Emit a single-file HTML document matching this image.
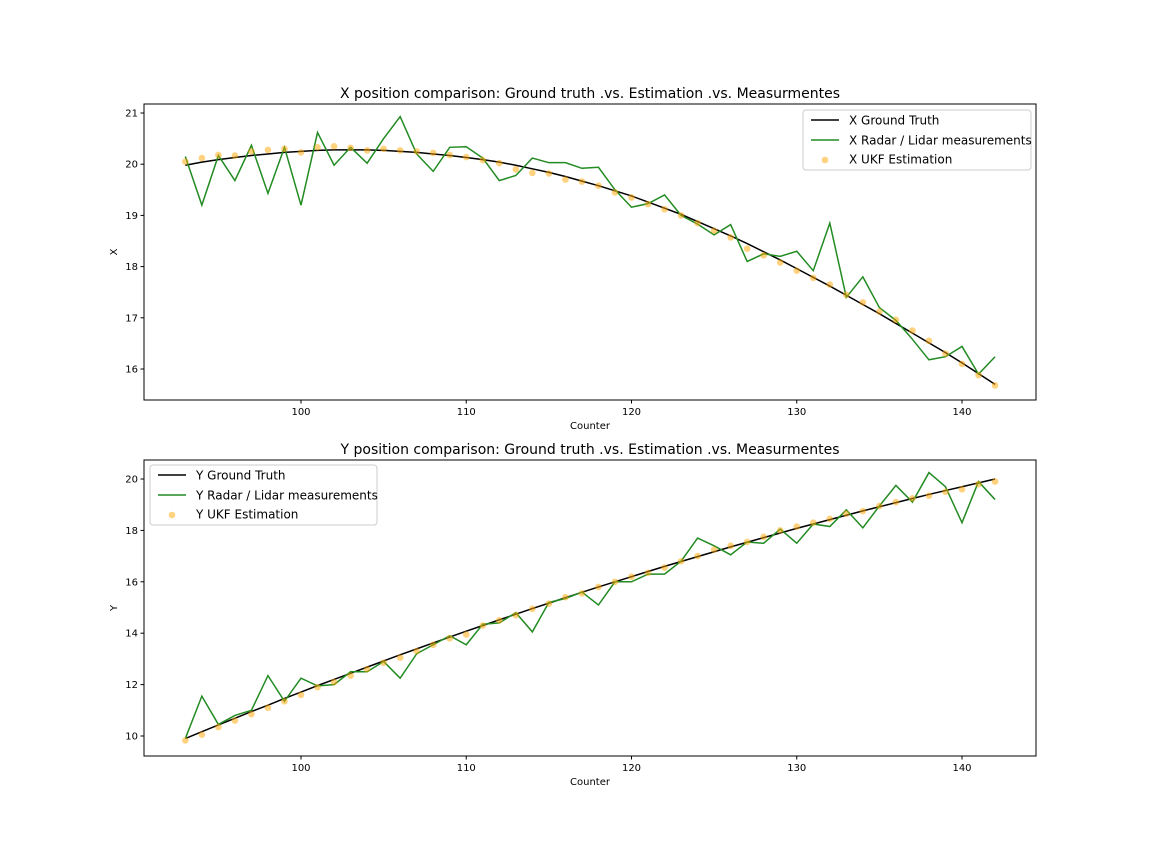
<!DOCTYPE html>
<html><head><meta charset="utf-8"><style>
body{margin:0;background:#fff}
svg{display:block;font-family:"DejaVu Sans","Liberation Sans",sans-serif}
</style></head><body>
<svg id="c" width="1152" height="864"></svg>
<script>
const counters=[];for(let c=93;c<=142;c++)counters.push(c);
const xTruth=[19.98,20.04,20.09,20.13,20.17,20.20,20.23,20.25,20.27,20.28,20.28,20.28,20.27,20.25,20.23,20.20,20.17,20.13,20.09,20.04,19.98,19.91,19.84,19.76,19.67,19.58,19.48,19.38,19.26,19.14,19.02,18.88,18.74,18.60,18.45,18.29,18.13,17.96,17.79,17.62,17.44,17.26,17.08,16.89,16.70,16.51,16.32,16.12,15.91,15.70];
const xMeas=[20.15,19.2,20.17,19.68,20.37,19.43,20.33,19.2,20.62,19.98,20.33,20.02,20.5,20.93,20.2,19.86,20.33,20.34,20.12,19.68,19.78,20.12,20.03,20.03,19.92,19.94,19.5,19.16,19.23,19.4,19.0,18.83,18.62,18.82,18.1,18.25,18.2,18.3,17.92,18.85,17.4,17.8,17.2,16.95,16.58,16.18,16.24,16.44,15.9,16.24];
const xUkf=[20.05,20.12,20.18,20.17,20.25,20.28,20.3,20.23,20.33,20.35,20.32,20.27,20.3,20.27,20.25,20.22,20.18,20.14,20.08,20.02,19.9,19.83,19.82,19.7,19.66,19.58,19.45,19.35,19.22,19.12,19.0,18.85,18.7,18.57,18.35,18.22,18.08,17.92,17.78,17.65,17.45,17.3,17.12,16.96,16.75,16.55,16.3,16.1,15.88,15.68];
const yTruth=[9.90,10.17,10.43,10.69,10.95,11.20,11.46,11.71,11.96,12.20,12.44,12.68,12.92,13.16,13.39,13.62,13.85,14.08,14.30,14.52,14.74,14.96,15.17,15.38,15.59,15.80,16.00,16.20,16.40,16.60,16.79,16.98,17.17,17.36,17.54,17.72,17.90,18.08,18.25,18.42,18.59,18.76,18.92,19.08,19.24,19.40,19.55,19.70,19.85,20.00];
const yMeas=[9.9,11.55,10.45,10.8,11.0,12.35,11.35,12.25,11.95,12.0,12.5,12.5,12.9,12.25,13.2,13.55,13.9,13.55,14.35,14.4,14.8,14.05,15.2,15.35,15.6,15.1,16.0,16.0,16.3,16.3,16.8,17.7,17.4,17.05,17.55,17.5,18.05,17.5,18.25,18.15,18.8,18.1,18.95,19.75,19.1,20.25,19.7,18.3,19.9,19.2];
const yUkf=[9.83,10.05,10.35,10.6,10.85,11.1,11.35,11.6,11.9,12.1,12.35,12.6,12.85,13.05,13.3,13.55,13.8,13.95,14.3,14.5,14.7,14.95,15.15,15.4,15.55,15.8,16.0,16.2,16.35,16.55,16.8,17.0,17.25,17.4,17.55,17.75,18.0,18.15,18.3,18.45,18.65,18.75,18.95,19.1,19.25,19.35,19.5,19.6,19.8,19.9];
const xTicks=[100,110,120,130,140];
const topYTicks=[16,17,18,19,20,21];
const botYTicks=[10,12,14,16,18,20];

const svg=document.getElementById('c');
const NS='http://www.w3.org/2000/svg';
function mk(tag,attrs,parent,text){const e=document.createElementNS(NS,tag);for(const k in attrs)e.setAttribute(k,attrs[k]);if(text!==undefined)e.textContent=text;(parent||svg).appendChild(e);return e;}
const L=144,R=1036;
const sx=c=>301+(c-100)*(661/40);

function panel(o){
  const g=mk('g',{});
  
  
  const sy=v=>o.y0px+(v-o.y0)*(o.y1px-o.y0px)/(o.y1-o.y0);
  const t=mk('text',{x:(L+R)/2,y:o.top-6,'text-anchor':'middle','font-size':14,fill:'#000'},g,o.title);
  
  const tp=mk('polyline',{points:counters.map((c,i)=>sx(c)+','+sy(o.truth[i])).join(' '),fill:'none',stroke:'#000',"stroke-width":1.5},g);
  
  const mp=mk('polyline',{points:counters.map((c,i)=>sx(c)+','+sy(o.meas[i])).join(' '),fill:'none',stroke:'#228b22',"stroke-width":1.5},g);
  
  counters.forEach((c,i)=>{const p=mk('circle',{cx:sx(c),cy:sy(o.ukf[i]),r:3.3,fill:'#ffa500','fill-opacity':0.5},g);
    });
  const fr=mk('rect',{x:L,y:o.top,width:R-L,height:o.bot-o.top,fill:'none',stroke:'#000','stroke-width':1},g);
  
  xTicks.forEach(v=>{mk('line',{x1:sx(v),x2:sx(v),y1:o.bot,y2:o.bot+3.5,stroke:'#000'},g);
    const tl=mk('text',{x:sx(v),y:o.bot+15,'text-anchor':'middle','font-size':10},g,v);
    });
  o.yt.forEach(v=>{mk('line',{x1:L-3.5,x2:L,y1:sy(v),y2:sy(v),stroke:'#000'},g);
    const tl=mk('text',{x:L-6,y:sy(v)+3.5,'text-anchor':'end','font-size':10},g,v);
    });
  const xl=mk('text',{x:(L+R)/2,y:o.bot+29,'text-anchor':'middle','font-size':10},g,'Counter');
  
  const yl=mk('text',{x:0,y:0,'text-anchor':'middle','font-size':10,transform:`translate(117,${(o.top+o.bot)/2}) rotate(-90)`},g,o.ylab);
  
  const lg=mk('g',{},g);
  mk('rect',{x:o.lx,y:o.ly,width:o.lw,height:60,rx:3,fill:'#fff','fill-opacity':0.8,stroke:'#ccc'},lg);
  const ex=o.lx+8;
  mk('line',{x1:ex,x2:ex+28,y1:o.ly+10,y2:o.ly+10,stroke:'#000','stroke-width':1.5},lg);
  mk('text',{x:ex+38,y:o.ly+14.5,'font-size':12},lg,o.ylab+' Ground Truth');
  mk('line',{x1:ex,x2:ex+28,y1:o.ly+30,y2:o.ly+30,stroke:'#228b22','stroke-width':1.5},lg);
  mk('text',{x:ex+38,y:o.ly+34.5,'font-size':12},lg,o.ylab+' Radar / Lidar measurements');
  mk('circle',{cx:ex+14,cy:o.ly+50,r:3.3,fill:'#ffa500','fill-opacity':0.5},lg);
  mk('text',{x:ex+38,y:o.ly+53.5,'font-size':12},lg,o.ylab+' UKF Estimation');
}
panel({name:'x-position-panel',title:'X position comparison: Ground truth .vs. Estimation .vs. Measurmentes',top:104,bot:400,y0:16,y1:21,y0px:369,y1px:113,truth:xTruth,meas:xMeas,ukf:xUkf,yt:topYTicks,ylab:'X',lx:803,ly:110,lw:228});
panel({name:'y-position-panel',title:'Y position comparison: Ground truth .vs. Estimation .vs. Measurmentes',top:460,bot:756,y0:10,y1:20,y0px:736,y1px:479,truth:yTruth,meas:yMeas,ukf:yUkf,yt:botYTicks,ylab:'Y',lx:150,ly:465,lw:227});
</script>
</body></html>
